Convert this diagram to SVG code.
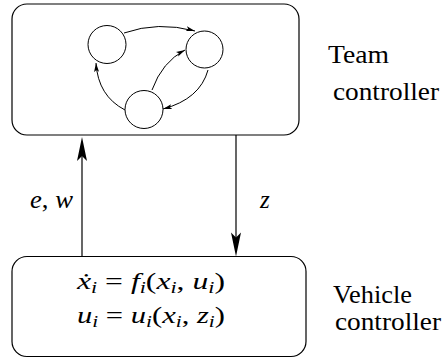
<svg xmlns="http://www.w3.org/2000/svg" width="443" height="360" viewBox="0 0 443 360">
<style>
.box{fill:none;stroke:#000;stroke-width:1.2}
.node{fill:#fff;stroke:#000;stroke-width:1}
.edge{fill:none;stroke:#000;stroke-width:1}
.big{fill:none;stroke:#000;stroke-width:1.2}
</style>
<defs>
<marker id="ah" markerWidth="10" markerHeight="6" refX="9" refY="3" orient="auto" markerUnits="userSpaceOnUse">
<path d="M0,0.5 L9,3 L0,5.5 L2,3 Z" fill="#000"/>
</marker>
<path id="bigHead" d="M0,0 L5,24 L0,19 L-5,24 Z" fill="#000"/>
</defs>
<g id="team">
<rect class="box" x="12" y="4" width="287" height="131" rx="15"/>
<g id="n1"><circle class="node" cx="107" cy="44.5" r="19"/></g>
<g id="n2"><circle class="node" cx="204.5" cy="49.5" r="18.5"/></g>
<g id="n3"><circle class="node" cx="144" cy="109.5" r="19"/></g>
<g id="graph-edges">
<path class="edge" marker-end="url(#ah)" d="M124,33 Q158,21 195,31"/>
<path class="edge" marker-end="url(#ah)" d="M152,90 Q162,62 185,50"/>
<path class="edge" marker-end="url(#ah)" d="M208,70 Q200,99 163,109"/>
<path class="edge" marker-end="url(#ah)" d="M125,110 Q98,96 96,63"/>
</g>
</g>
<g id="vehicle" font-family="Liberation Serif, serif" font-size="23" font-style="italic">
<rect class="box" x="12" y="256.5" width="294" height="100" rx="15"/>
<text x="77" y="289" textLength="148" lengthAdjust="spacingAndGlyphs">ẋ<tspan font-size="16" dy="4">i</tspan><tspan font-style="normal" dy="-4"> = </tspan>f<tspan font-size="16" dy="4">i</tspan><tspan font-style="normal" dy="-4">(</tspan>x<tspan font-size="16" dy="4">i</tspan><tspan font-style="normal" dy="-4">, </tspan>u<tspan font-size="16" dy="4">i</tspan><tspan font-style="normal" dy="-4">)</tspan></text>
<text x="77" y="323" textLength="148" lengthAdjust="spacingAndGlyphs">u<tspan font-size="16" dy="4">i</tspan><tspan font-style="normal" dy="-4"> = </tspan>u<tspan font-size="16" dy="4">i</tspan><tspan font-style="normal" dy="-4">(</tspan>x<tspan font-size="16" dy="4">i</tspan><tspan font-style="normal" dy="-4">, </tspan>z<tspan font-size="16" dy="4">i</tspan><tspan font-style="normal" dy="-4">)</tspan></text>
</g>
<g id="connectors" font-family="Liberation Serif, serif" font-size="25" font-style="italic">
<line class="big" x1="82" y1="256.5" x2="82" y2="150"/>
<use href="#bigHead" transform="translate(82,137)"/>
<line class="big" x1="236" y1="135" x2="236" y2="245"/>
<use href="#bigHead" transform="translate(236,256.5) rotate(180)"/>
<text x="30" y="208" textLength="43" lengthAdjust="spacingAndGlyphs">e<tspan font-style="normal">, </tspan>w</text>
<text x="260" y="208">z</text>
</g>
<g id="labels" font-family="Liberation Serif, serif" font-size="25">
<text x="328" y="63" textLength="61" lengthAdjust="spacingAndGlyphs">Team</text>
<text x="333" y="100" textLength="106" lengthAdjust="spacingAndGlyphs">controller</text>
<text x="333" y="303" textLength="79" lengthAdjust="spacingAndGlyphs">Vehicle</text>
<text x="335" y="330" textLength="106" lengthAdjust="spacingAndGlyphs">controller</text>
</g>
</svg>
